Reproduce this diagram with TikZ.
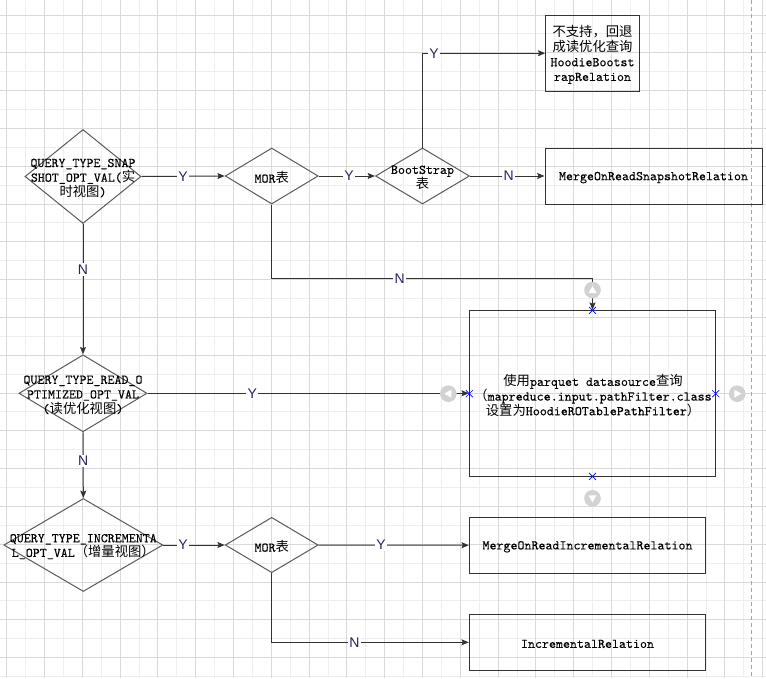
\documentclass[tikz,border=0pt]{standalone}
\usepackage{fontspec}
\newfontfamily\cjk{Noto Sans CJK SC}
\newfontfamily\lblfont{Liberation Sans}
\newfontfamily\monof{Latin Modern Mono}[FakeBold=0.15]
\usetikzlibrary{shapes.geometric,arrows.meta}
\definecolor{linecol}{HTML}{333333}
\definecolor{diacol}{HTML}{5A5A5A}
\definecolor{lblcol}{HTML}{2A2068}
\definecolor{gridlight}{HTML}{EEEEEE}
\definecolor{griddark}{HTML}{DADADA}
\definecolor{handle}{HTML}{D2D2D2}
\begin{document}
\begin{tikzpicture}[x=0.75pt,y=-0.75pt,
  dia/.style={diamond, draw=diacol, line width=0.75pt, inner sep=0pt},
  box/.style={rectangle, draw=linecol, line width=0.75pt, inner sep=0pt},
  txt/.style={font=\fontsize{10pt}{11pt}\selectfont\monof, align=center, inner sep=0pt, text=black, yshift=-1.2pt},
  lbl/.style={font=\lblfont\fontsize{10.5pt}{12pt}\selectfont, text=lblcol, fill=white, inner sep=1pt},
  conn/.style={draw=linecol, line width=0.75pt, -{Stealth[length=5.5pt,width=4.5pt,inset=1pt]}},
  handlecirc/.style={fill=handle, draw=none},
  xmark/.style={draw=blue, line width=0.5pt}
]
\useasboundingbox (0,0) rectangle (766,678);
\fill[white] (0,0) rectangle (766,678);
% grid
\foreach \k in {0,...,19} \draw[gridlight, line width=0.75pt] ({25.6+37.8*\k},0) -- ({25.6+37.8*\k},678);
\foreach \k in {0,...,17} \draw[gridlight, line width=0.75pt] (0,{33.9+37.8*\k}) -- (766,{33.9+37.8*\k});
\foreach \k in {0,...,20} \draw[griddark, line width=0.75pt] ({6.7+37.8*\k},0) -- ({6.7+37.8*\k},678);
\foreach \k in {0,...,17} \draw[griddark, line width=0.75pt] (0,{15+37.8*\k}) -- (766,{15+37.8*\k});
\draw[gray!70, line width=0.75pt, dash pattern=on 3pt off 2.25pt] (751.7,0) -- (751.7,678);

% nodes
\node[dia, minimum width=87pt, minimum height=70.5pt] (d1) at (83,176.5) {};
\node[txt] (d1t) at (d1.center) {QUERY\_TYPE\_SNAP\\SHOT\_OPT\_VAL({\cjk 实}\\{\cjk 时视图})};
\node[dia, minimum width=69.75pt, minimum height=42pt] (m1) at (271.7,176) {};
\node[txt] (m1t) at (m1.center) {MOR{\cjk 表}};
\node[dia, minimum width=70.5pt, minimum height=42pt] (b1) at (422.5,176) {};
\node[txt] (b1t) at (b1.center) {BootStrap\\{\cjk 表}};
\node[box, minimum width=162.75pt, minimum height=42pt] (r1) at (653.5,176) {};
\node[txt] (r1t) at (r1.center) {MergeOnReadSnapshotRelation};
\node[box, minimum width=70.2pt, minimum height=56.8pt] (r0) at (592.5,53.2) {};
\node[txt] (r0t) at (r0.center) {{\cjk 不支持，回退}\\{\cjk 成读优化查询}\\HoodieBootst\\rapRelation};

\node[dia, minimum width=96pt, minimum height=57.75pt] (d2) at (83,393.3) {};
\node[txt] (d2t) at (d2.center) {QUERY\_TYPE\_READ\_O\\PTIMIZED\_OPT\_VAL\\({\cjk 读优化视图})};
\node[box, minimum width=184.8pt, minimum height=124.5pt] (big) at (592.5,393.3) {};
\node[txt] (bigt) at (593,394) {{\cjk 使用}parquet datasource{\cjk 查询}\\{\cjk （}mapreduce.input.pathFilter.class\\{\cjk 设置为}HoodieROTablePathFilter{\cjk ）}};

\node[dia, minimum width=119.25pt, minimum height=69.75pt] (d3) at (83.3,545) {};
\node[txt] (d3t) at (d3.center) {QUERY\_TYPE\_INCREMENTA\\L\_OPT\_VAL{\cjk （增量视图）}};
\node[dia, minimum width=69.75pt, minimum height=41.5pt] (m2) at (271.7,545) {};
\node[txt] (m2t) at (m2.center) {MOR{\cjk 表}};
\node[box, minimum width=177.3pt, minimum height=41.8pt] (r2) at (587.5,545.2) {};
\node[txt] (r2t) at (r2.center) {MergeOnReadIncrementalRelation};
\node[box, minimum width=177.3pt, minimum height=42pt] (r3) at (587.5,642.3) {};
\node[txt] (r3t) at (r3.center) {IncrementalRelation};

\coordinate (k1) at (592.5,278.3);

% connectors
\draw[conn] (d1.east) -- (m1.west) node[lbl, pos=0.5] (l1) {Y};
\draw[conn] (m1.east) -- (b1.west) node[lbl, pos=0.54] (l2) {Y};
\draw[conn] (b1.east) -- (r1.west) node[lbl, pos=0.52] (l3) {N};
\draw[conn] (b1.north) |- (r0.west);
\node[lbl] (l4) at (434,53.2) {Y};
\draw[conn] (m1.south) |- (k1) -- (big.north);
\node[lbl] (l5) at (399.7,278.3) {N};
\draw[conn] (d1.south) -- (d2.north) node[lbl, pos=0.35] (l6) {N};
\draw[conn] (d2.east) -- (big.west) node[lbl, pos=0.326] (l7) {Y};
\draw[conn] (d2.south) -- (d3.north) node[lbl, pos=0.435] (l8) {N};
\draw[conn] (d3.east) -- (m2.west) node[lbl, pos=0.32] (l9) {Y};
\draw[conn] (m2.east) -- (r2.west) node[lbl, pos=0.415] (l10) {Y};
\draw[conn] (m2.south) |- (r3.west);
\node[lbl] (l11) at (354.3,642.3) {N};

% editor handles
\fill[handlecirc] (592.5,290) circle (8.3);
\fill[white] (588.5,293) -- (596.5,293) -- (592.5,286) -- cycle;
\fill[handlecirc] (592.5,498.3) circle (8.3);
\fill[white] (588.5,495.3) -- (596.5,495.3) -- (592.5,502.3) -- cycle;
\fill[handlecirc] (448.3,393.7) circle (8.3);
\fill[white] (451.3,389.7) -- (451.3,397.7) -- (444.3,393.7) -- cycle;
\fill[handlecirc] (737.3,393.7) circle (8.3);
\fill[white] (734.3,389.7) -- (734.3,397.7) -- (741.3,393.7) -- cycle;
\foreach \p in {(592.5,310.3),(469.3,393.7),(715.7,393.7),(592.5,476.3)} {
  \draw[xmark] \p ++(-3.5,-3.5) -- ++(7,7);
  \draw[xmark] \p ++(-3.5,3.5) -- ++(7,-7);
}
\end{tikzpicture}
\end{document}
